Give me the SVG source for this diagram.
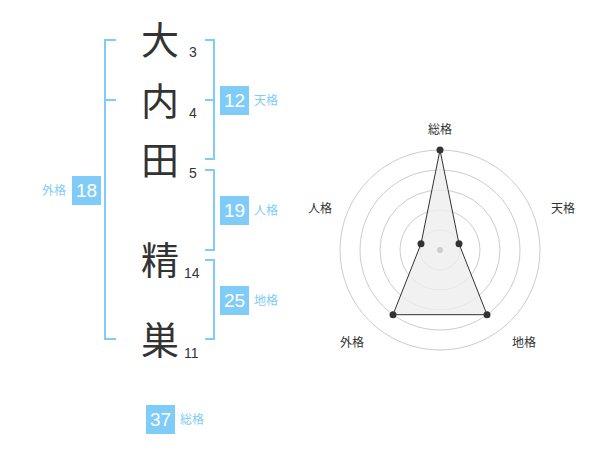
<svg xmlns="http://www.w3.org/2000/svg" width="600" height="470" viewBox="0 0 600 470">
<style>
.ch{font-family:"Noto Sans CJK JP","Noto Sans CJK SC",sans-serif;font-size:38px;fill:#333;text-anchor:middle}
.num{font-family:"Liberation Sans",Arial,sans-serif;font-size:14px;fill:#333}
.br{fill:none;stroke:#80ccf8;stroke-width:2}
.box{fill:#80ccf8}
.bn{font-family:"Liberation Sans",Arial,sans-serif;font-size:19px;fill:#fff;text-anchor:middle}
.bl{font-family:"Noto Sans CJK JP","Noto Sans CJK SC",sans-serif;font-size:12px;fill:#80ccf8}
.ring{fill:none;stroke:#ccc;stroke-width:1}
.rl{font-family:"Noto Sans CJK JP","Noto Sans CJK SC",sans-serif;font-size:12px;fill:#333;text-anchor:middle}
.pt{fill:#333}
</style>
<rect width="600" height="470" fill="#fff"/>
<g id="chars">
<text class="ch" x="160" y="54">大</text>
<text class="ch" x="160" y="115">内</text>
<text class="ch" x="160" y="174">田</text>
<text class="ch" x="160" y="274">精</text>
<text class="ch" x="160" y="354">巣</text>
<text class="num" x="189" y="57">3</text>
<text class="num" x="189" y="118">4</text>
<text class="num" x="189" y="178">5</text>
<text class="num" x="184" y="278">14</text>
<text class="num" x="184" y="358">11</text>
</g>
<g id="connectors">
<path class="br" d="M116,40 H105 V339 H116 M105,100 H116"/>
<path class="br" d="M205,40 H214 V159 H205 M214,100 H205"/>
<path class="br" d="M205,170 H214 V250 H205"/>
<path class="br" d="M205,260 H214 V339 H205"/>
</g>
<g id="tenkaku">
<rect class="box" x="220" y="86" width="29" height="29"/>
<text class="bn" x="234.5" y="107">12</text>
<text class="bl" x="254" y="105">天格</text>
</g>
<g id="jinkaku">
<rect class="box" x="220" y="196" width="29" height="29"/>
<text class="bn" x="234.5" y="217">19</text>
<text class="bl" x="254" y="215">人格</text>
</g>
<g id="chikaku">
<rect class="box" x="220" y="286" width="29" height="29"/>
<text class="bn" x="234.5" y="307">25</text>
<text class="bl" x="254" y="305">地格</text>
</g>
<g id="gaikaku">
<rect class="box" x="72" y="176" width="29" height="29"/>
<text class="bn" x="86.5" y="197">18</text>
<text class="bl" x="42" y="195">外格</text>
</g>
<g id="soukaku">
<rect class="box" x="146" y="405" width="29" height="29"/>
<text class="bn" x="160.5" y="426">37</text>
<text class="bl" x="180" y="424">総格</text>
</g>
<g id="radar">
<circle class="ring" cx="440" cy="250" r="20"/>
<circle class="ring" cx="440" cy="250" r="40"/>
<circle class="ring" cx="440" cy="250" r="60"/>
<circle class="ring" cx="440" cy="250" r="80"/>
<circle class="ring" cx="440" cy="250" r="100"/>
<polygon points="440,150 459,243.8 487,314.7 393,314.7 421,243.8" fill="#eee" fill-opacity="0.8" stroke="#333" stroke-width="1"/>
<circle cx="440" cy="250" r="3" fill="#ccc"/>
<circle class="pt" cx="440" cy="150" r="3.5"/>
<circle class="pt" cx="459" cy="243.8" r="3.5"/>
<circle class="pt" cx="487" cy="314.7" r="3.5"/>
<circle class="pt" cx="393" cy="314.7" r="3.5"/>
<circle class="pt" cx="421" cy="243.8" r="3.5"/>
<text class="rl" x="440" y="134">総格</text>
<text class="rl" x="563" y="213">天格</text>
<text class="rl" x="320" y="213">人格</text>
<text class="rl" x="352" y="347">外格</text>
<text class="rl" x="524" y="347">地格</text>
</g>
</svg>
